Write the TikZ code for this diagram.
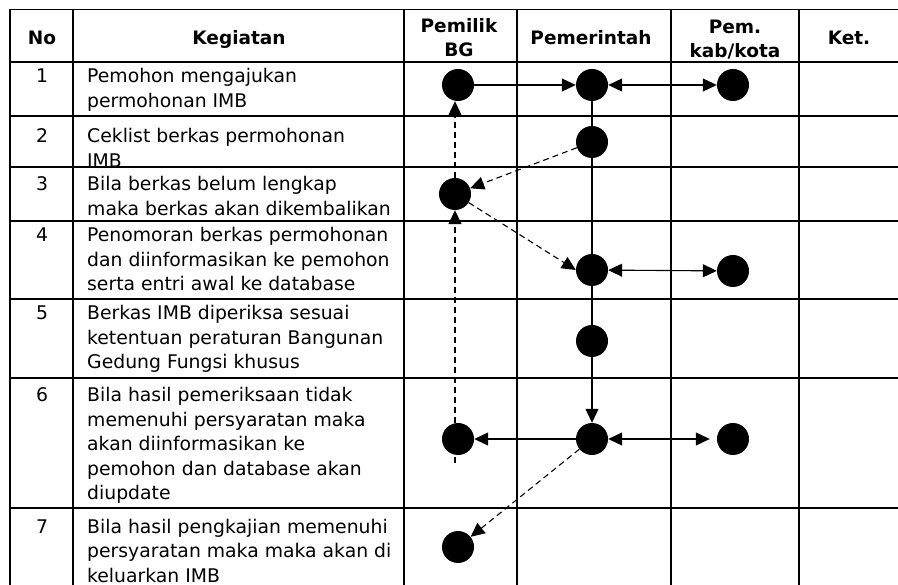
\documentclass[tikz,border=0pt]{standalone}
\usepackage{fontspec}
\setmainfont{DejaVu Sans}
\usetikzlibrary{arrows.meta}
\begin{document}
\begin{tikzpicture}[x=1pt,y=-1pt,
  grid/.style={line width=1.4pt,black},
  body/.style={font=\fontsize{18.8}{24.5}\selectfont,inner sep=0pt,align=left,anchor=base west},
  num/.style={font=\fontsize{18.8}{24.5}\selectfont,inner sep=0pt,anchor=base},
  head/.style={font=\bfseries\fontsize{18.5}{24}\selectfont,inner sep=0pt,align=center,anchor=base},
  dot/.style={circle,fill=black,draw=none,inner sep=0pt,minimum size=32pt},
  conn/.style={line width=1.1pt,black},
  dashc/.style={line width=1.1pt,black,dash pattern=on 6pt off 4pt},
  tip/.tip={Triangle[length=14pt,width=13pt]}
]
\useasboundingbox (0,0) rectangle (898,585);
% grid
\foreach \y in {9.5,62,116,167,221,299,378,508} \draw[grid] (10,\y) -- (898,\y);
\foreach \x in {10,73,404,517,671,799} \draw[grid] (\x,9.5) -- (\x,585);
% header (base = last line)
\node[head] (hno) at (42,45) {No};
\node[head] (hkeg) at (239,45) {Kegiatan};
\node[head] (hpem) at (459,57) {Pemilik\\BG};
\node[head] (hgov) at (591,45) {Pemerintah};
\node[head] (hkab) at (735,58) {Pem.\\kab/kota};
\node[head] (hket) at (849,45) {Ket.};
% numbers
\node[num] (n1) at (42,83) {1};
\node[num] (n2) at (42,143) {2};
\node[num] (n3) at (42,191) {3};
\node[num] (n4) at (42,242) {4};
\node[num] (n5) at (42,320) {5};
\node[num] (n6) at (42,402) {6};
\node[num] (n7) at (42,533) {7};
% texts (base = last line)
\node[body] (t1) at (87,107.5) {Pemohon mengajukan\\permohonan IMB};
\node[body] (t2) at (87,167.5) {Ceklist berkas permohonan\\IMB};
\node[body] (t3) at (87,215.5) {Bila berkas belum lengkap\\maka berkas akan dikembalikan};
\node[body] (t4) at (87,291) {Penomoran berkas permohonan\\dan diinformasikan ke pemohon\\serta entri awal ke database};
\node[body] (t5) at (87,369) {Berkas IMB diperiksa sesuai\\ketentuan peraturan Bangunan\\Gedung Fungsi khusus};
\node[body] (t6) at (87,500) {Bila hasil pemeriksaan tidak\\memenuhi persyaratan maka\\akan diinformasikan ke\\pemohon dan database akan\\diupdate};
\node[body] (t7) at (87,582) {Bila hasil pengkajian memenuhi\\persyaratan maka maka akan di\\keluarkan IMB};
% dots
\node[dot] (p1) at (458,85) {};
\node[dot] (g1) at (592,85) {};
\node[dot] (k1) at (733,85) {};
\node[dot] (g2) at (592,142) {};
\node[dot] (p3) at (455,194) {};
\node[dot] (g4) at (592,270) {};
\node[dot] (k4) at (733,271) {};
\node[dot] (g5) at (592,341) {};
\node[dot] (p6) at (458,439) {};
\node[dot] (g6) at (592,439) {};
\node[dot] (k6) at (733,439) {};
\node[dot] (p7) at (458,547) {};
\coordinate (d6) at (455,463);
% connectors
\draw[conn,-tip] (p1) -- (g1);
\draw[conn,tip-tip] (g1) -- (k1);
\draw[conn] (g1) -- (g2);
\draw[conn] (g2) -- (g4);
\draw[conn] (g4) -- (g5);
\draw[conn,-tip] (g5) -- (g6);
\draw[dashc,-tip] (g2) -- (p3);
\draw[dashc,-tip] (p3) -- (g4.west);
\draw[conn,tip-tip] (g4) -- (k4);
\draw[dashc,-tip] (d6) -- (p3.south);
\draw[dashc,-tip] (p3.north) -- (p3.north |- p1.south);
\draw[conn,-tip] (g6) -- (p6);
\draw[conn,tip-tip] (g6) -- ([xshift=-7pt]k6.west);
\draw[dashc,-tip] (g6) -- (p7);
\end{tikzpicture}
\end{document}
